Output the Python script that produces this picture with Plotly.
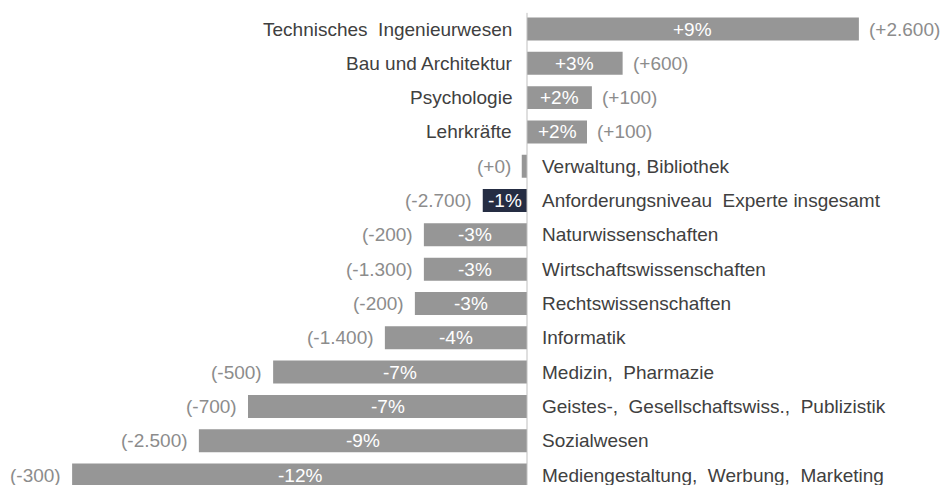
import plotly.graph_objects as go

categories = [
    "Technisches  Ingenieurwesen",
    "Bau und Architektur",
    "Psychologie",
    "Lehrkräfte",
    "Verwaltung, Bibliothek",
    "Anforderungsniveau  Experte insgesamt",
    "Naturwissenschaften",
    "Wirtschaftswissenschaften",
    "Rechtswissenschaften",
    "Informatik",
    "Medizin,  Pharmazie",
    "Geistes-,  Gesellschaftswiss.,  Publizistik",
    "Sozialwesen",
    "Mediengestaltung,  Werbung,  Marketing",
]
change_pct = [8.85, 2.55, 1.73, 1.6, -0.14, -1.18, -2.75, -2.75, -2.99, -3.79, -6.77, -7.44, -8.75, -12.13]
pct_labels = ["+9%", "+3%", "+2%", "+2%", "", "-1%", "-3%", "-3%", "-3%", "-4%", "-7%", "-7%", "-9%", "-12%"]
abs_labels = ["(+2.600)", "(+600)", "(+100)", "(+100)", "(+0)", "(-2.700)", "(-200)", "(-1.300)",
              "(-200)", "(-1.400)", "(-500)", "(-700)", "(-2.500)", "(-300)"]
highlight = "Anforderungsniveau  Experte insgesamt"

GRAY = "#969696"
DARK = "#252d43"
FONT = "Liberation Sans, Arial, sans-serif"
FS = 19

W, H = 943, 485
AX_PX = 527          # x pixel of the zero line
ROW0_PX = 29         # y pixel of the first row centre
ROW_STEP = 34.31
PX_PER_PCT = 37.5

ys = list(range(len(categories)))
colors = [DARK if c == highlight else GRAY for c in categories]

fig = go.Figure(go.Bar(
    x=change_pct, y=ys, orientation="h", width=0.67,
    marker=dict(color=colors, line=dict(width=0)),
    hoverinfo="skip",
))

ann = []
for i, (cat, v, p, a) in enumerate(zip(categories, change_pct, pct_labels, abs_labels)):
    pos = v > 0
    ann.append(dict(x=0, y=i, xref="x", yref="y", text=cat, showarrow=False,
                    xanchor="right" if pos else "left", xshift=-13 if pos else 13,
                    font=dict(family=FONT, size=FS, color="#404040")))
    if p:
        ann.append(dict(x=v / 2, y=i, xref="x", yref="y", text=p, showarrow=False,
                        xanchor="center", font=dict(family=FONT, size=FS, color="white")))
    ann.append(dict(x=v, y=i, xref="x", yref="y", text=a, showarrow=False,
                    xanchor="left" if pos else "right", xshift=8 if pos else -9,
                    font=dict(family=FONT, size=FS, color="#8c8c8c")))

fig.update_layout(
    width=W, height=H,
    margin=dict(l=0, r=0, t=0, b=0),
    paper_bgcolor="white", plot_bgcolor="white",
    showlegend=False,
    hovermode=False,
    xaxis=dict(range=[-AX_PX / PX_PER_PCT, (W - AX_PX) / PX_PER_PCT], visible=False, fixedrange=True),
    yaxis=dict(range=[(H - ROW0_PX) / ROW_STEP, -ROW0_PX / ROW_STEP], visible=False, fixedrange=True),
    annotations=ann,
    shapes=[dict(type="line", xref="x", yref="y", x0=0, x1=0, y0=-0.47, y1=13.5,
                 line=dict(color="#bfbfbf", width=1), layer="above")],
)

fig.write_html(
    "out.html",
    config={"displayModeBar": False, "staticPlot": True},
    post_script="document.body.style.margin='0';document.body.style.overflow='hidden';",
)
